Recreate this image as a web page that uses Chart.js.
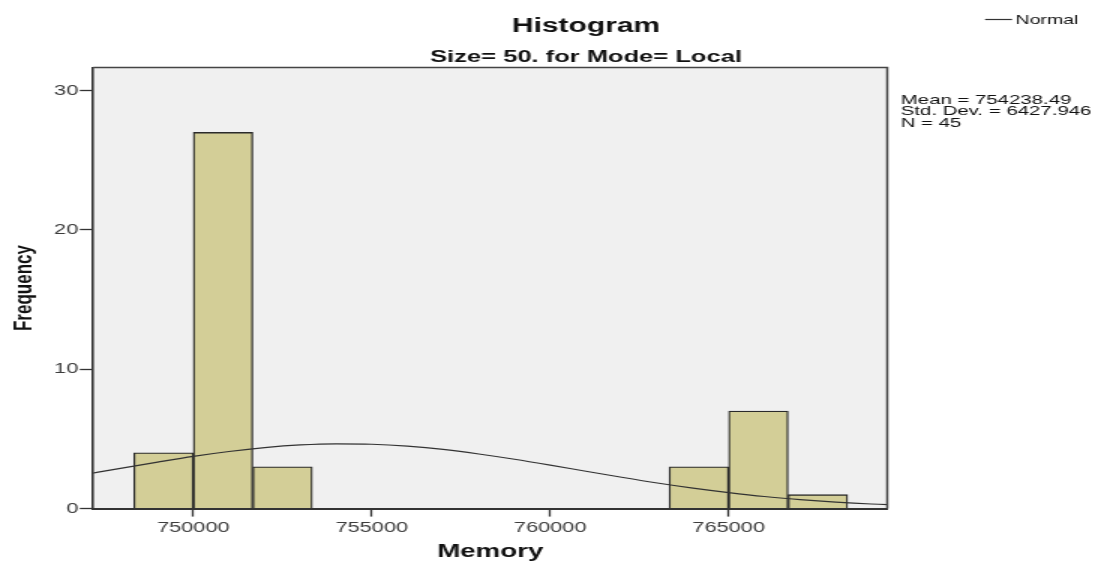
<!DOCTYPE html>
<html>
<head>
<meta charset="utf-8">
<script src="https://cdn.jsdelivr.net/npm/chart.js@4.4.1/dist/chart.umd.min.js"></script>
<style>
    html, body { margin: 0; padding: 0; background: #ffffff; overflow: hidden; }
</style>
</head>
<body>
<!-- drawn narrow and stretched sideways, like the original screenshot -->
<canvas id="histChart" width="734" height="561" style="width:1101px;height:561px"></canvas>
<script>
// Memory bins (width ~1666.7) and their frequencies
const binCenters = [749166.7, 750833.3, 752500, 754166.7, 755833.3, 757500, 759166.7, 760833.3, 762500, 764166.7, 765833.3, 767500];
const binCounts = [4, 27, 3, 0, 0, 0, 0, 0, 0, 3, 7, 1];

// fitted normal curve
const curveX = [747000, 748000, 749000, 750000, 751000, 752000, 753000, 754000, 755000, 756000, 757000, 758000,
    759000, 760000, 761000, 762000, 763000, 764000, 765000, 766000, 767000, 768000, 769000, 770000];
const curveY = [2.47, 2.91, 3.34, 3.75, 4.10, 4.38, 4.57, 4.65, 4.62, 4.48, 4.25, 3.92,
    3.54, 3.12, 2.68, 2.25, 1.84, 1.47, 1.15, 0.87, 0.65, 0.47, 0.33, 0.23];

const xTicks = [750000, 755000, 760000, 765000];
const yTicks = [0, 10, 20, 30];
const statLines = ["Mean = 754238.49", "Std. Dev. = 6427.946", "N = 45"];

const xMin = 747198;
const xMax = 769444;
const yMax = 31.66;

const FONT = '"Liberation Sans", Arial, sans-serif';
Chart.defaults.font.family = FONT;

const spssDecor = {
    id: "spssDecor",
    beforeDraw(chart) {
        const { ctx, chartArea: a } = chart;
        ctx.save();
        ctx.fillStyle = "#f0f0f0";
        ctx.fillRect(a.left, a.top, a.right - a.left, a.bottom - a.top);
        ctx.restore();
    },
    afterDraw(chart) {
        const { ctx, chartArea: a } = chart;
        ctx.save();

        // top and right edges of the frame
        ctx.strokeStyle = "#444";
        ctx.lineWidth = 1.5;
        ctx.beginPath();
        ctx.moveTo(a.left, a.top);
        ctx.lineTo(a.right, a.top);
        ctx.lineTo(a.right, a.bottom);
        ctx.stroke();

        // titles
        ctx.fillStyle = "#111";
        ctx.textAlign = "center";
        ctx.font = "bold 20px " + FONT;
        ctx.fillText("Histogram", 390.7, 31.5);
        ctx.font = "bold 17px " + FONT;
        ctx.fillText("Size= 50. for Mode= Local", 390.7, 62);

        // legend
        ctx.strokeStyle = "#333";
        ctx.lineWidth = 1.2;
        ctx.beginPath();
        ctx.moveTo(656.7, 19.5);
        ctx.lineTo(674.7, 19.5);
        ctx.stroke();
        ctx.textAlign = "left";
        ctx.font = "13px " + FONT;
        ctx.fillText("Normal", 677, 23.5);

        // statistics box
        ctx.font = "13.6px " + FONT;
        statLines.forEach((s, i) => ctx.fillText(s, 600.5, 104 + i * 11.3));

        ctx.restore();
    }
};

new Chart(document.getElementById("histChart"), {
    type: "bar",
    data: {
        datasets: [
            {
                type: "line",
                label: "Normal",
                data: curveX.map((x, i) => ({ x: x, y: curveY[i] })),
                borderColor: "#333",
                borderWidth: 1.2,
                pointRadius: 0,
                cubicInterpolationMode: "monotone",
                fill: false
            },
            {
                label: "Frequency",
                data: binCenters.map((x, i) => ({ x: x, y: binCounts[i] })),
                backgroundColor: "#d3ce97",
                borderColor: "#2a2a2a",
                borderWidth: 1.3,
                barPercentage: 1,
                categoryPercentage: 1
            }
        ]
    },
    options: {
        responsive: false,
        animation: false,
        layout: {
            padding: { top: 67.5, right: 142.5, left: 0, bottom: 0 }
        },
        plugins: {
            legend: { display: false },
            tooltip: { enabled: false }
        },
        scales: {
            x: {
                type: "linear",
                min: xMin,
                max: xMax,
                offset: false,
                afterBuildTicks: s => { s.ticks = xTicks.map(v => ({ value: v })); },
                afterFit: s => { s.height = 52.4; },
                ticks: {
                    callback: v => String(v),
                    autoSkip: false,
                    maxRotation: 0,
                    padding: 3,
                    color: "#3c3c3c",
                    font: { size: 14.5 }
                },
                grid: {
                    drawOnChartArea: false,
                    offset: false,
                    tickLength: 8,
                    tickColor: "#333",
                    tickWidth: 1.3
                },
                border: { color: "#333", width: 2 },
                title: {
                    display: true,
                    text: "Memory",
                    color: "#111",
                    padding: { top: 0, bottom: 0 },
                    font: { size: 18.5, weight: "bold", lineHeight: 1 }
                }
            },
            y: {
                min: 0,
                max: yMax,
                afterBuildTicks: s => { s.ticks = yTicks.map(v => ({ value: v })); },
                afterFit: s => { s.width = 62.2; },
                ticks: {
                    callback: v => String(v),
                    padding: 1,
                    color: "#3c3c3c",
                    font: { size: 14.5 }
                },
                grid: {
                    drawOnChartArea: false,
                    tickLength: 9,
                    tickColor: "#333",
                    tickWidth: 1.3
                },
                border: { color: "#333", width: 1.6 },
                title: {
                    display: true,
                    text: "Frequency",
                    color: "#111",
                    padding: { top: 6, bottom: 0 },
                    font: { size: 17, weight: "bold", lineHeight: 1.2 }
                }
            }
        }
    },
    plugins: [spssDecor]
});
</script>
</body>
</html>
